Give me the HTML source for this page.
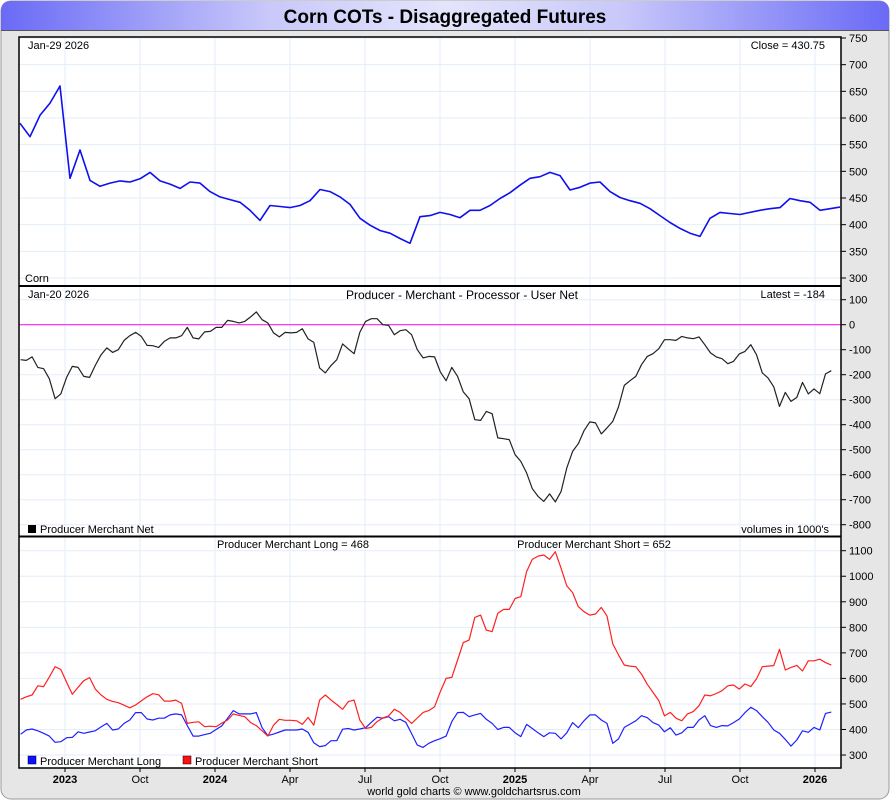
<!DOCTYPE html>
<html><head><meta charset="utf-8">
<style>
html,body{margin:0;padding:0;background:#fff;}
svg{display:block;font-family:"Liberation Sans",sans-serif;}
</style></head>
<body>
<svg id="chart" width="890" height="800" viewBox="0 0 890 800" xmlns="http://www.w3.org/2000/svg">
<defs>
<linearGradient id="tg" x1="0" x2="1" y1="0" y2="0">
<stop offset="0" stop-color="#6a6af6"/><stop offset="0.3" stop-color="#c8c8fa"/><stop offset="0.5" stop-color="#e4e4fc"/><stop offset="0.7" stop-color="#c8c8fa"/><stop offset="1" stop-color="#6a6af6"/>
</linearGradient>
</defs>
<rect x="1" y="1" width="888" height="798" rx="10" fill="#e6e6e6" stroke="#9a9a9a"/>
<path d="M1 30 L1 11 Q1 1 11 1 L879 1 Q889 1 889 11 L889 30 Z" fill="url(#tg)"/>
<line x1="1" y1="30.5" x2="889" y2="30.5" stroke="#555"/>
<text x="445" y="23" text-anchor="middle" font-size="19" font-weight="bold" fill="#000">Corn COTs - Disaggregated Futures</text>
<rect x="19" y="37" width="822" height="731" fill="#fff"/>
<g id="grid"></g>
<g id="marks"></g>
<g id="axes"></g>
<rect x="19" y="37" width="822" height="731" fill="none" stroke="#000" stroke-width="1.5"/>
<line x1="19" y1="286" x2="841" y2="286" stroke="#000" stroke-width="2"/>
<line x1="19" y1="536.5" x2="841" y2="536.5" stroke="#000" stroke-width="2"/>

<g font-size="11" fill="#000">
<text x="28" y="49">Jan-29  2026</text>
<text x="825" y="49" text-anchor="end">Close = 430.75</text>
<text x="25" y="282">Corn</text>
<text x="28" y="298">Jan-20  2026</text>
<text x="462" y="299" text-anchor="middle" font-size="12">Producer - Merchant - Processor - User Net</text>
<text x="825" y="298" text-anchor="end">Latest = -184</text>
<rect x="28" y="525" width="8" height="8" fill="#000"/>
<text x="40" y="533">Producer Merchant Net</text>
<text x="829" y="533" text-anchor="end">volumes in 1000's</text>
<text x="293" y="548" text-anchor="middle">Producer Merchant Long = 468</text>
<text x="594" y="548" text-anchor="middle">Producer Merchant Short = 652</text>
<rect x="28" y="756" width="8" height="8" fill="#1010ff" stroke="#000" stroke-width="0.5"/>
<text x="40" y="765">Producer Merchant Long</text>
<rect x="183" y="756" width="8" height="8" fill="#ff1010" stroke="#000" stroke-width="0.5"/>
<text x="195" y="765">Producer Merchant Short</text>
<text x="474" y="795" text-anchor="middle">world gold charts © www.goldchartsrus.com</text>
</g>
</svg>
<script>
// ---- data ----
const priceStart = 2023.35;           // decimal year of first price sample
const priceStepYears = 1/30;
const priceValues = [590,565,605,628,660,487,540,483,472,478,482,480,486,498,482,476,468,480,478,462,452,447,442,427,408,436,434,432,436,445,466,462,452,438,412,399,389,384,374,365,415,417,423,419,413,427,427,436,449,460,474,487,490,498,492,465,470,478,480,462,451,445,440,430,417,404,393,384,378,412,423,421,419,423,427,430,432,449,445,442,427,430,433];
const cotStart = 2023.352;            // decimal year of first weekly report
const netValues = [-140,-143,-129,-171,-176,-216,-296,-277,-211,-167,-171,-207,-211,-163,-120,-93,-111,-100,-63,-44,-31,-47,-83,-84,-91,-67,-53,-53,-44,-11,-53,-57,-29,-27,-11,-11,17,13,7,13,31,51,20,7,-33,-49,-31,-33,-31,-16,-57,-71,-173,-193,-163,-140,-77,-97,-116,-31,13,24,24,0,-3,-40,-24,-20,-40,-100,-133,-127,-129,
-189,-224,-171,-207,-269,-296,-380,-383,-347,-356,-453,-456,-460,-520,-547,-593,-656,-687,-707,-677,-709,-667,-573,-507,-476,-424,-389,-393,-437,-413,-387,-329,-243,-224,-207,-160,-127,-116,-96,-60,-60,-63,-47,-53,-56,-49,-80,-113,-129,-136,-156,-147,-117,-107,-80,-120,-193,-213,-249,-327,-271,-307,-291,-231,-277,-257,-276,-197,-184];
const longValues = [381,398,402,395,385,374,350,352,368,369,391,385,390,395,410,424,398,402,424,437,466,466,441,437,444,444,457,461,457,415,374,374,380,385,400,414,444,474,461,461,461,466,407,376,382,390,398,398,398,402,389,348,333,337,356,356,401,404,398,402,407,428,448,444,450,434,440,428,384,339,330,
346,356,364,374,431,466,467,450,457,463,440,424,400,408,408,387,372,420,404,387,372,387,385,363,387,427,407,434,457,457,437,424,346,363,408,421,434,454,446,427,417,391,407,378,387,408,408,437,454,415,408,415,414,427,441,466,487,474,450,428,398,385,361,335,359,395,389,408,398,463,468];
const shortValues = [518,528,535,571,568,605,646,635,585,538,565,591,603,558,535,518,510,505,495,485,496,512,528,540,536,511,511,515,502,424,428,430,411,413,411,425,437,461,455,450,427,415,395,374,417,440,436,436,434,420,447,417,515,535,515,498,479,509,515,437,404,408,431,445,453,479,467,445,424,445,467,
474,489,548,600,604,672,740,750,839,848,789,783,855,870,870,913,920,1018,1066,1079,1083,1066,1096,1031,962,936,881,861,848,852,878,844,735,692,652,648,646,617,577,545,513,453,467,444,434,461,470,493,535,532,541,552,571,574,558,578,568,598,646,648,650,714,633,643,651,629,669,669,675,662,652];
const priceTicks = [300,350,400,450,500,550,600,650,700,750];
const netTicks = [100,0,-100,-200,-300,-400,-500,-600,-700,-800];
const volTicks = [300,400,500,600,700,800,900,1000,1100];
const timeTickDates = [2023.5,2023.75,2024,2024.25,2024.5,2024.75,2025,2025.25,2025.5,2025.75,2026];
const timeTickLabels = ["2023","Oct","2024","Apr","Jul","Oct","2025","Apr","Jul","Oct","2026"];

// ---- axis functions ----
const xT = d => 215 + (d - 2024) * 300;
const yPrice = v => 38 + (750 - v) * (240 / 450);
const yNet = v => 324.7 - v * 0.25;
const yVol = v => 550.7 + (1100 - v) * 0.2554;
const weekDate = i => cotStart + i * 7 / 365.25;

const NS = "http://www.w3.org/2000/svg";
function mk(tag, attrs, parent) {
  const e = document.createElementNS(NS, tag);
  for (const k in attrs) e.setAttribute(k, attrs[k]);
  parent.appendChild(e);
  return e;
}
const grid = document.getElementById('grid');
const marks = document.getElementById('marks');
const axes = document.getElementById('axes');

// vertical grid + time labels
timeTickDates.forEach((d, i) => {
  const x = xT(d);
  const g = mk('line', {x1: x, x2: x, y1: 37, y2: 768, stroke: '#e2eef8', 'stroke-width': 1}, grid);
  
  
  const t = mk('line', {x1: x, x2: x, y1: 768, y2: 772, stroke: '#000'}, axes);
  
  
  const lbl = mk('text', {x: x, y: 783, 'text-anchor': 'middle', 'font-size': 11, 'font-weight': /^\d/.test(timeTickLabels[i]) ? 'bold' : 'normal'}, axes);
  lbl.textContent = timeTickLabels[i];
  
  
});

function yAxis(ticks, yf, name) {
  ticks.forEach(v => {
    const y = yf(v);
    const g = mk('line', {x1: 19, x2: 841, y1: y, y2: y, stroke: '#e2eef8', 'stroke-width': 1}, grid);
    
    
    const t = mk('line', {x1: 841, x2: 846, y1: y, y2: y, stroke: '#000'}, axes);
    
    
    const l = mk('text', {x: 849, y: y + 4, 'font-size': 11}, axes);
    l.textContent = v;
    
    
  });
}
yAxis(priceTicks, yPrice, 'price-axis');
yAxis(netTicks, yNet, 'net-axis');
yAxis(volTicks, yVol, 'volume-axis');

// zero line
const zl = mk('line', {x1: 19, x2: 841, y1: yNet(0), y2: yNet(0), stroke: '#ff22ee', 'stroke-width': 1.2}, marks);



function line(vals, dateF, yf, color, w, name) {
  const pts = vals.map((v, i) => xT(dateF(i)).toFixed(1) + ',' + yf(v).toFixed(1)).join(' ');
  const p = mk('polyline', {points: pts, fill: 'none', stroke: color, 'stroke-width': w, 'stroke-linejoin': 'round'}, marks);
  
  
}
line(priceValues, i => priceStart + i * priceStepYears, yPrice, '#1010ee', 1.6, 'price-series');
line(netValues, weekDate, yNet, '#222', 1.2, 'producer-merchant-net-line');
line(longValues, weekDate, yVol, '#2020ff', 1.2, 'producer-merchant-long-line');
line(shortValues, weekDate, yVol, '#ff2020', 1.2, 'producer-merchant-short-line');
</script>
</body></html>
